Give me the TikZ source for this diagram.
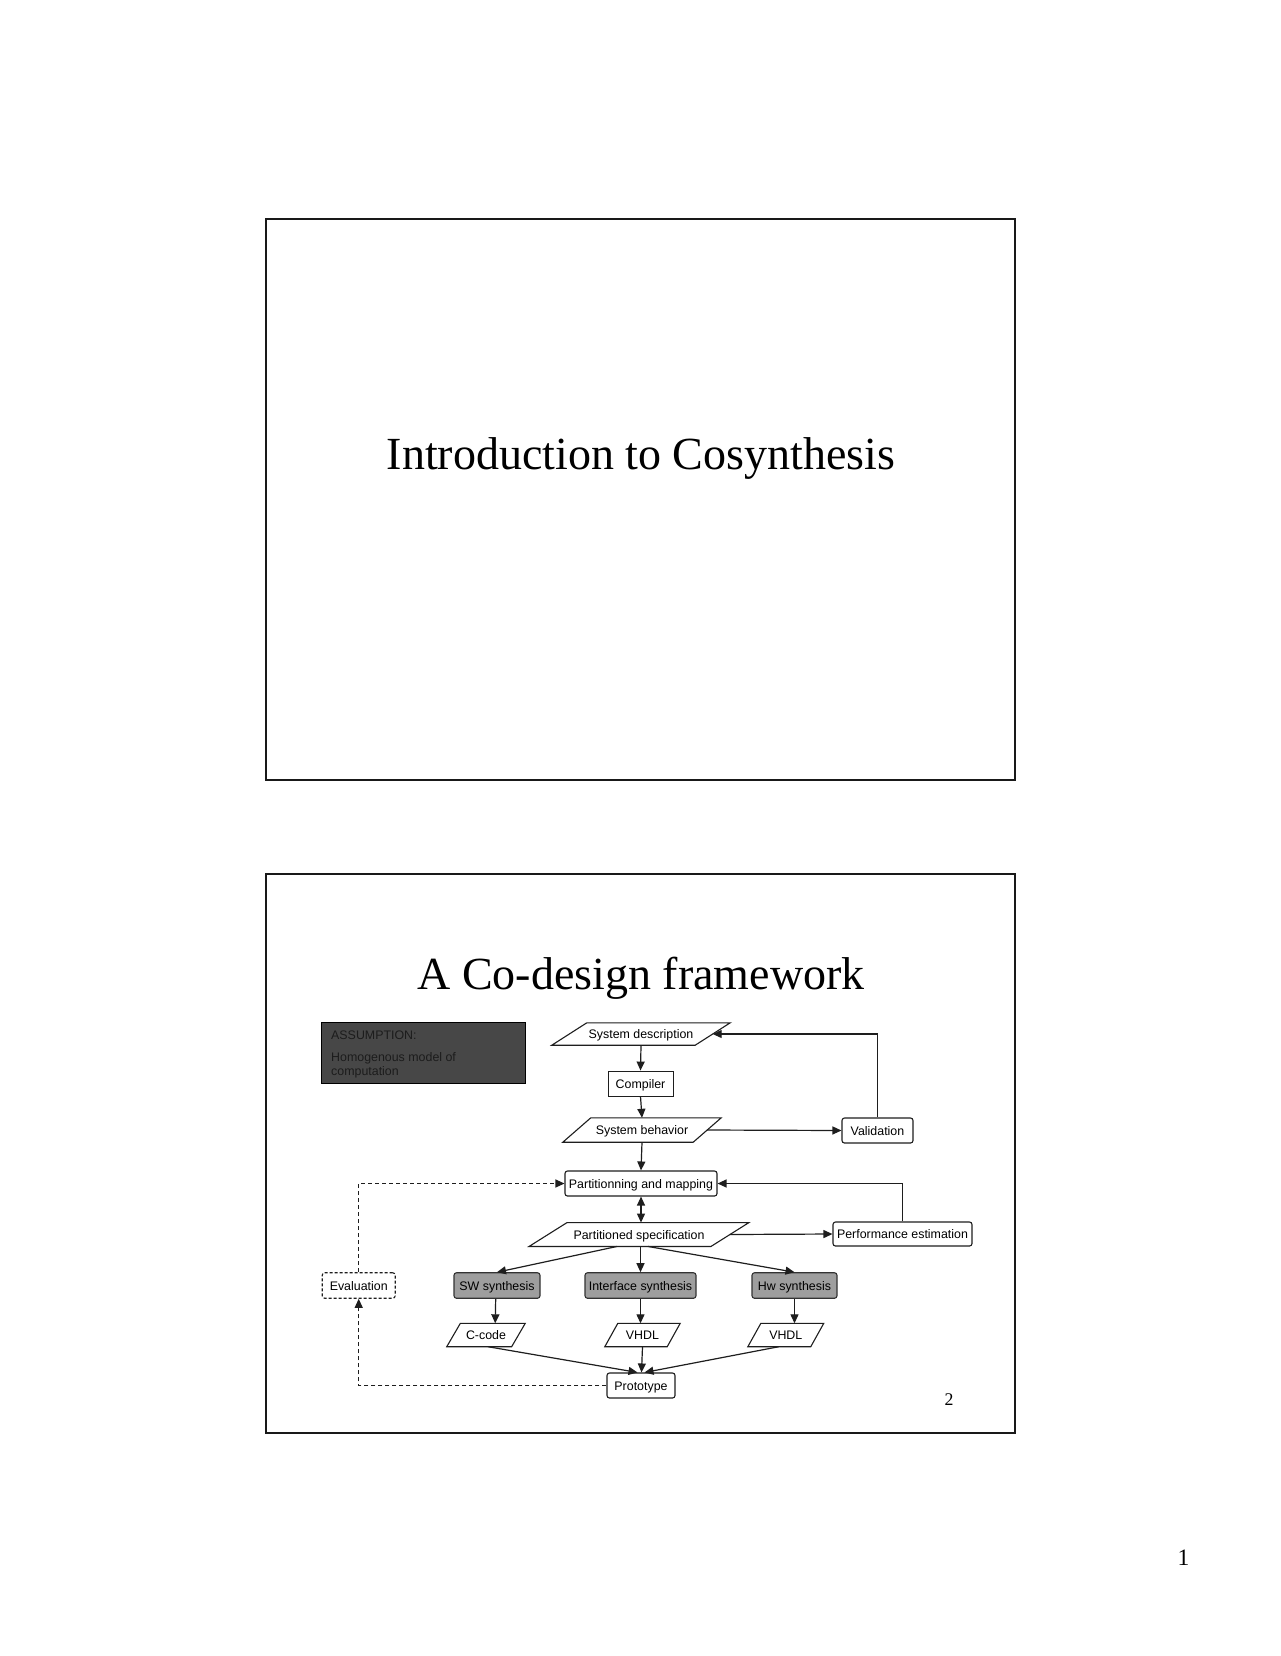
\documentclass[tikz,border=0pt]{standalone}
\usepackage{fontspec}
\setmainfont{Liberation Serif}
\newfontfamily\arialf{Liberation Sans}
\usetikzlibrary{arrows.meta}
\definecolor{graysyn}{HTML}{9E9E9E}
\definecolor{assumpfill}{HTML}{474747}
\definecolor{assumptext}{HTML}{1C1C1C}
\definecolor{linecol}{HTML}{1E1E1E}
\begin{document}
\begin{tikzpicture}[x=1pt,y=-1pt,
  dfont/.style={font=\arialf\fontsize{12.4}{14}\selectfont},
  box/.style={dfont, draw=linecol, line width=1.1pt, rounded corners=2.5pt, inner sep=0pt, text height=9pt, text depth=0pt, align=center},
  sqbox/.style={box, rounded corners=0pt, line width=0.9pt},
  graybox/.style={box, fill=graysyn, draw=black!80},
  dashbox/.style={box, dash pattern=on 3pt off 2pt},
  paranode/.style={dfont, inner sep=0pt, text height=9pt, text depth=0pt},
  para/.style={draw=linecol, line width=1.1pt, line join=miter},
  conn/.style={draw=linecol, line width=1.2pt, -{Triangle[length=9pt,width=8pt]}},
  dconn/.style={conn, dash pattern=on 4pt off 3pt},
  frame/.style={draw=black!90, line width=2.4pt},
  titlefont/.style={font=\fontsize{46}{52}\selectfont, inner sep=0pt, anchor=base}
]
\fill[white] (0,0) rectangle (1280,1656);
\useasboundingbox (0,0) rectangle (1280,1656);

% slide frames
\draw[frame] (266,219) rectangle (1015,780);
\draw[frame] (266,874) rectangle (1015,1433);

% titles and page numbers
\node[titlefont] (t1) at (641,469) {Introduction to Cosynthesis};
\node[titlefont] (t2) at (641,989) {A Co-design framework};
\node[font=\fontsize{17.8}{20}\selectfont, inner sep=0pt, anchor=base] (pg2) at (949,1405) {2};
\node[font=\fontsize{23.5}{26}\selectfont, inner sep=0pt, anchor=base] (pg1) at (1183.5,1565) {1};

% assumption box
\node[draw=black, line width=0.8pt, fill=assumpfill, minimum width=204pt, minimum height=61pt, inner sep=0pt] (assump) at (423.7,1052.4) {};
\node[dfont, text=assumptext, anchor=base west, inner sep=0pt] (a1) at (331,1039) {ASSUMPTION:};
\node[dfont, text=assumptext, anchor=base west, inner sep=0pt] (a2) at (331,1061.7) {Homogenous model of};
\node[dfont, text=assumptext, anchor=base west, inner sep=0pt] (a3) at (331,1075.7) {computation};

% parallelogram nodes (rectangle = midline of the parallelogram)
\node[paranode, minimum width=143pt, minimum height=22pt] (sd) at (641,1034) {System description};
\node[paranode, minimum width=130pt, minimum height=24pt] (sb) at (642,1130) {System behavior};
\node[paranode, minimum width=181.5pt, minimum height=23.5pt] (ps) at (639,1234.5) {Partitioned specification};
\node[paranode, minimum width=64.5pt, minimum height=23pt] (cc) at (486,1335) {C-code};
\node[paranode, minimum width=62pt, minimum height=23pt] (v1) at (642.5,1335) {VHDL};
\node[paranode, minimum width=62.5pt, minimum height=23pt] (v2) at (785.8,1335) {VHDL};

\draw[para] ([xshift=17.5pt]sd.north west) -- ([xshift=17.5pt]sd.north east) -- ([xshift=-17.5pt]sd.south east) -- ([xshift=-17.5pt]sd.south west) -- cycle;
\draw[para] ([xshift=14pt]sb.north west) -- ([xshift=14pt]sb.north east) -- ([xshift=-14pt]sb.south east) -- ([xshift=-14pt]sb.south west) -- cycle;
\draw[para] ([xshift=19pt]ps.north west) -- ([xshift=19pt]ps.north east) -- ([xshift=-19pt]ps.south east) -- ([xshift=-19pt]ps.south west) -- cycle;
\draw[para] ([xshift=6.8pt]cc.north west) -- ([xshift=6.8pt]cc.north east) -- ([xshift=-6.8pt]cc.south east) -- ([xshift=-6.8pt]cc.south west) -- cycle;
\draw[para] ([xshift=6.5pt]v1.north west) -- ([xshift=6.5pt]v1.north east) -- ([xshift=-6.5pt]v1.south east) -- ([xshift=-6.5pt]v1.south west) -- cycle;
\draw[para] ([xshift=6.5pt]v2.north west) -- ([xshift=6.5pt]v2.north east) -- ([xshift=-6.5pt]v2.south east) -- ([xshift=-6.5pt]v2.south west) -- cycle;

% box nodes
\node[sqbox, minimum width=65pt, minimum height=25pt] (comp) at (640.5,1083.5) {Compiler};
\node[box, minimum width=71pt, minimum height=25pt] (val) at (877.5,1130.5) {Validation};
\node[box, minimum width=152pt, minimum height=25pt] (pm) at (641,1183.5) {Partitionning and mapping};
\node[box, minimum width=139pt, minimum height=24pt] (pe) at (902.5,1234) {Performance estimation};
\node[dashbox, minimum width=73pt, minimum height=25.5pt] (ev) at (358.7,1285.5) {Evaluation};
\node[graybox, minimum width=86pt, minimum height=25.5pt] (sw) at (497,1285.5) {SW synthesis};
\node[graybox, minimum width=111pt, minimum height=25.5pt] (if) at (640.5,1285.5) {Interface synthesis};
\node[graybox, minimum width=85pt, minimum height=25.5pt] (hw) at (794.5,1285.5) {Hw synthesis};
\node[box, minimum width=68pt, minimum height=25pt] (proto) at (641,1385.5) {Prototype};

% main flow
\draw[conn] (sd.south) -- (comp.north);
\draw[conn] (comp.south) -- (sb.north);
\draw[conn] (sb.south) -- (pm.north);
\draw[conn, {Triangle[length=9pt,width=8pt]}-{Triangle[length=9pt,width=8pt]}] (pm.south) -- (pm.south |- ps.north);
\draw[conn] (sb.east) -- (val.west);
\draw[conn] (val.north) |- (sd.east);
\draw[conn] (ps.east) -- (pe.west);
\draw[conn] (pe.north) |- (pm.east);

% synthesis branches
\draw[conn] ([xshift=-22pt]ps.south) -- (sw.north);
\draw[conn] (if.north |- ps.south) -- (if.north);
\draw[conn] ([xshift=9pt]ps.south) -- (hw.north);
\draw[conn] ([xshift=-1.3pt]sw.south) -- ([xshift=-1.8pt]sw.south |- cc.north);
\draw[conn] (if.south) -- (if.south |- v1.north);
\draw[conn] (hw.south) -- (hw.south |- v2.north);

% into prototype
\draw[conn] ([xshift=2pt]cc.south) -- ([xshift=-3.5pt]proto.north);
\draw[conn] (v1.south) -- ([xshift=0.5pt]proto.north);
\draw[conn] ([xshift=-7pt]v2.south) -- ([xshift=3.5pt]proto.north);

% evaluation loop (dashed)
\draw[dconn] (proto.west) -| (ev.south);
\draw[dconn] (ev.north) |- (pm.west);
\end{tikzpicture}
\end{document}
